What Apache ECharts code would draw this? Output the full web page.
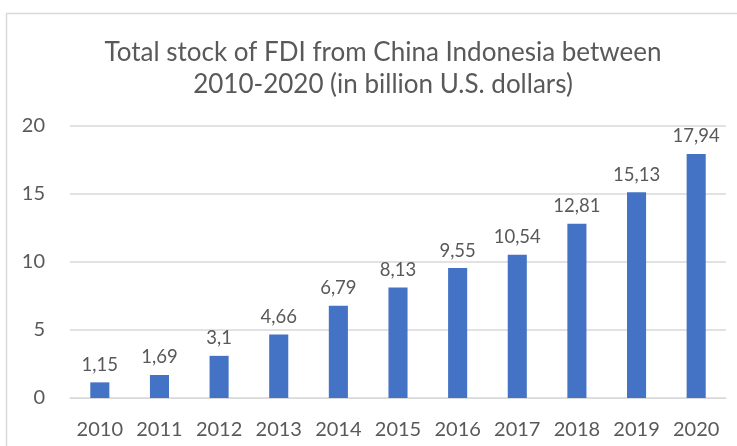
<!DOCTYPE html>
<html>
<head>
<meta charset="utf-8">
<script src="https://cdn.jsdelivr.net/npm/echarts@6/dist/echarts.min.js"></script>
<style>
  html, body { margin: 0; padding: 0; background: #fff; }
  #chart { width: 737px; height: 446px; }
</style>
</head>
<body>
<div id="chart"></div>
<script>
// FDI stock from China in Indonesia, billion U.S. dollars
const years = ['2010', '2011', '2012', '2013', '2014', '2015', '2016', '2017', '2018', '2019', '2020'];
const fdiStock = [1.15, 1.69, 3.1, 4.66, 6.79, 8.13, 9.55, 10.54, 12.81, 15.13, 17.94];
const titleLines = ['Total stock of FDI from China Indonesia between', '2010-2020 (in billion U.S. dollars)'];

const textColor = '#595959';
const fontFamily = 'Lato, "Open Sans", sans-serif';

const chart = echarts.init(document.getElementById('chart'), null, { renderer: 'canvas' });
chart.setOption({
  animation: false,
  backgroundColor: '#ffffff',
  textStyle: { fontFamily: fontFamily },
  graphic: [{
    type: 'rect',
    shape: { x: 6.5, y: 13.5, width: 760, height: 460 },
    style: { fill: 'none', stroke: '#d9d9d9', lineWidth: 1.5 },
    silent: true
  }],
  title: {
    text: titleLines.join('\n'),
    left: 378,
    textAlign: 'center',
    top: 32,
    textStyle: { color: textColor, fontSize: 26, fontWeight: 'normal', lineHeight: 32, fontFamily: fontFamily }
  },
  grid: { left: 70, right: 11, top: 126, bottom: 48, containLabel: false },
  xAxis: {
    type: 'category',
    data: years,
    axisLine: { show: true, lineStyle: { color: '#d9d9d9', width: 1 } },
    axisTick: { show: false },
    axisLabel: { interval: 0, hideOverlap: false, color: textColor, fontSize: 20, margin: 22, fontFamily: fontFamily }
  },
  yAxis: {
    type: 'value',
    min: 0,
    max: 20,
    interval: 5,
    axisLine: { show: false },
    axisTick: { show: false },
    splitLine: { lineStyle: { color: '#d9d9d9', width: 1.5 } },
    axisLabel: { color: textColor, fontSize: 20, margin: 25, fontFamily: fontFamily }
  },
  series: [{
    type: 'bar',
    data: fdiStock,
    barWidth: '32%',
    itemStyle: { color: '#4472c4' },
    label: {
      show: true,
      position: 'top',
      distance: 8,
      color: textColor,
      fontSize: 18.5,
      fontFamily: fontFamily,
      formatter: p => String(p.value).replace('.', ',')
    }
  }]
});
</script>
</body>
</html>
